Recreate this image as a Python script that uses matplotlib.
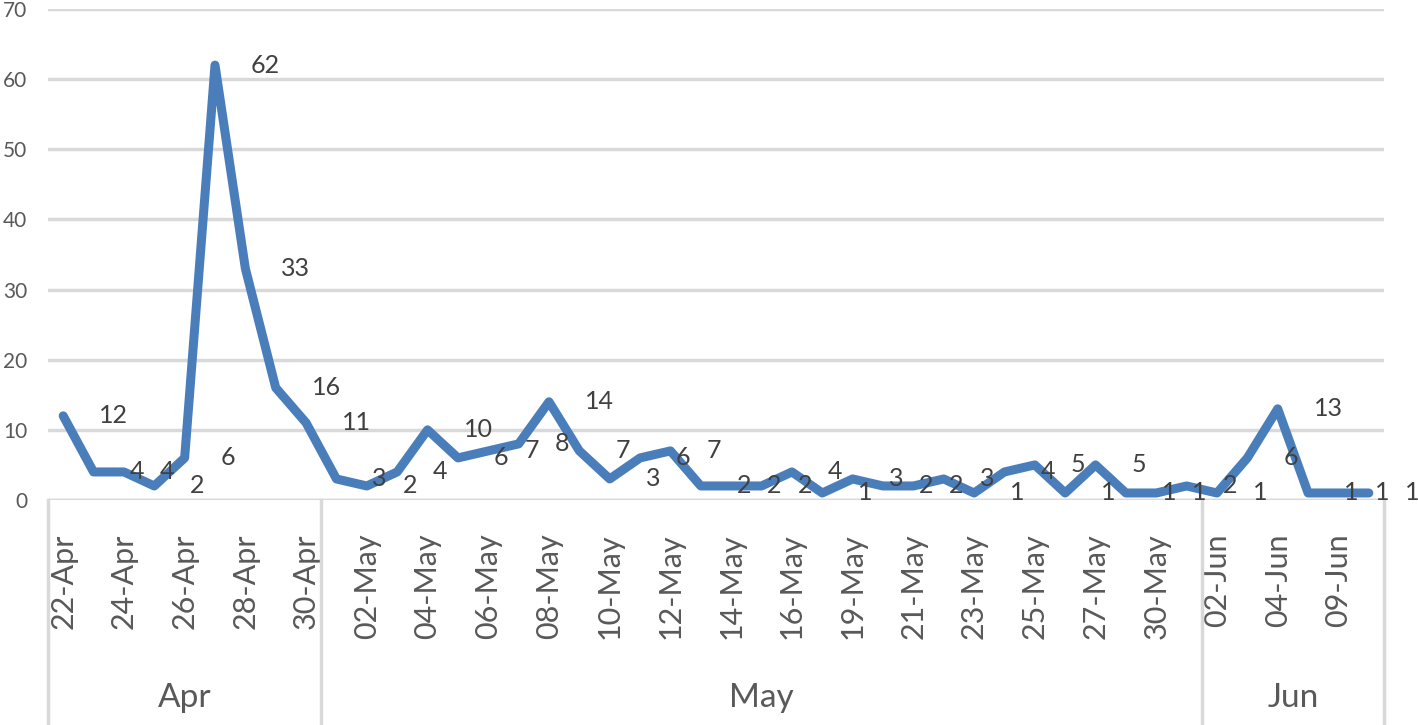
import matplotlib
matplotlib.use("Agg")
import matplotlib.pyplot as plt
import matplotlib.transforms as mtransforms

plt.rcParams['font.family'] = ['Lato', 'DejaVu Sans']

# categories (one per point) and the month groups under them
dates = ["22-Apr", "23-Apr", "24-Apr", "25-Apr", "26-Apr", "27-Apr", "28-Apr", "29-Apr", "30-Apr",
         "01-May", "02-May", "03-May", "04-May", "05-May", "06-May", "07-May", "08-May", "09-May",
         "10-May", "11-May", "12-May", "13-May", "14-May", "15-May", "16-May", "17-May", "19-May",
         "20-May", "21-May", "22-May", "23-May", "24-May", "25-May", "26-May", "27-May", "28-May",
         "30-May", "31-May", "02-Jun", "03-Jun", "04-Jun", "05-Jun", "09-Jun", "10-Jun"]
cases = [12, 4, 4, 2, 6, 62, 33, 16, 11,
         3, 2, 4, 10, 6, 7, 8, 14, 7,
         3, 6, 7, 2, 2, 2, 4, 1, 3,
         2, 2, 3, 1, 4, 5, 1, 5, 1,
         1, 2, 1, 6, 13, 1, 1, 1]
months = ["Apr", "May", "Jun"]
month_counts = [9, 29, 6]
y_ticks = [0, 10, 20, 30, 40, 50, 60, 70]

line_color = "#4a7ebb"
grid_color = "#d9d9d9"
text_color = "#595959"

fig = plt.figure(figsize=(14.18, 7.25), dpi=100)
ax = fig.add_axes([48 / 1418, 225 / 725, (1384 - 48) / 1418, 491 / 725])

x = list(range(len(cases)))
ax.plot(x, cases, color=line_color, lw=6.5, solid_joinstyle='round', solid_capstyle='round', zorder=3)

# data labels sit to the right of each point
for xi, v in zip(x, cases):
    ax.annotate(str(v), (xi, v), xytext=(36, 0), textcoords='offset pixels',
                ha='left', va='center', fontsize=18, color="#404040", annotation_clip=False)

ax.set_xlim(-0.5, len(cases) - 0.5)
ax.set_ylim(0, 70)
ax.set_yticks(y_ticks)
ax.set_yticklabels([str(t) for t in y_ticks], fontsize=15, color=text_color)
ax.tick_params(axis='y', length=0, pad=15)
ax.grid(axis='y', color=grid_color, lw=2.5)
ax.set_axisbelow(True)

ax.set_xticks(x[::2])
ax.set_xticklabels(dates[::2], rotation=90, fontsize=22, color=text_color, va='top')
ax.tick_params(axis='x', length=0, pad=24)

for s in ax.spines.values():
    s.set_visible(False)
ax.axhline(0, color=grid_color, lw=2.5, zorder=1)

# month group boxes below the axis
trans = mtransforms.blended_transform_factory(ax.transData, ax.transAxes)
bottom = -225 / 491
start = -0.5
edges = [start]
for m, n in zip(months, month_counts):
    end = start + n
    ax.text((start + end) / 2, -198 / 491, m, transform=trans, ha='center', va='center',
            fontsize=24, color=text_color)
    edges.append(end)
    start = end
for e in edges:
    ax.plot([e, e], [0, bottom], transform=trans, color=grid_color, lw=2.5, clip_on=False)

fig.savefig("out.png", dpi=100)
